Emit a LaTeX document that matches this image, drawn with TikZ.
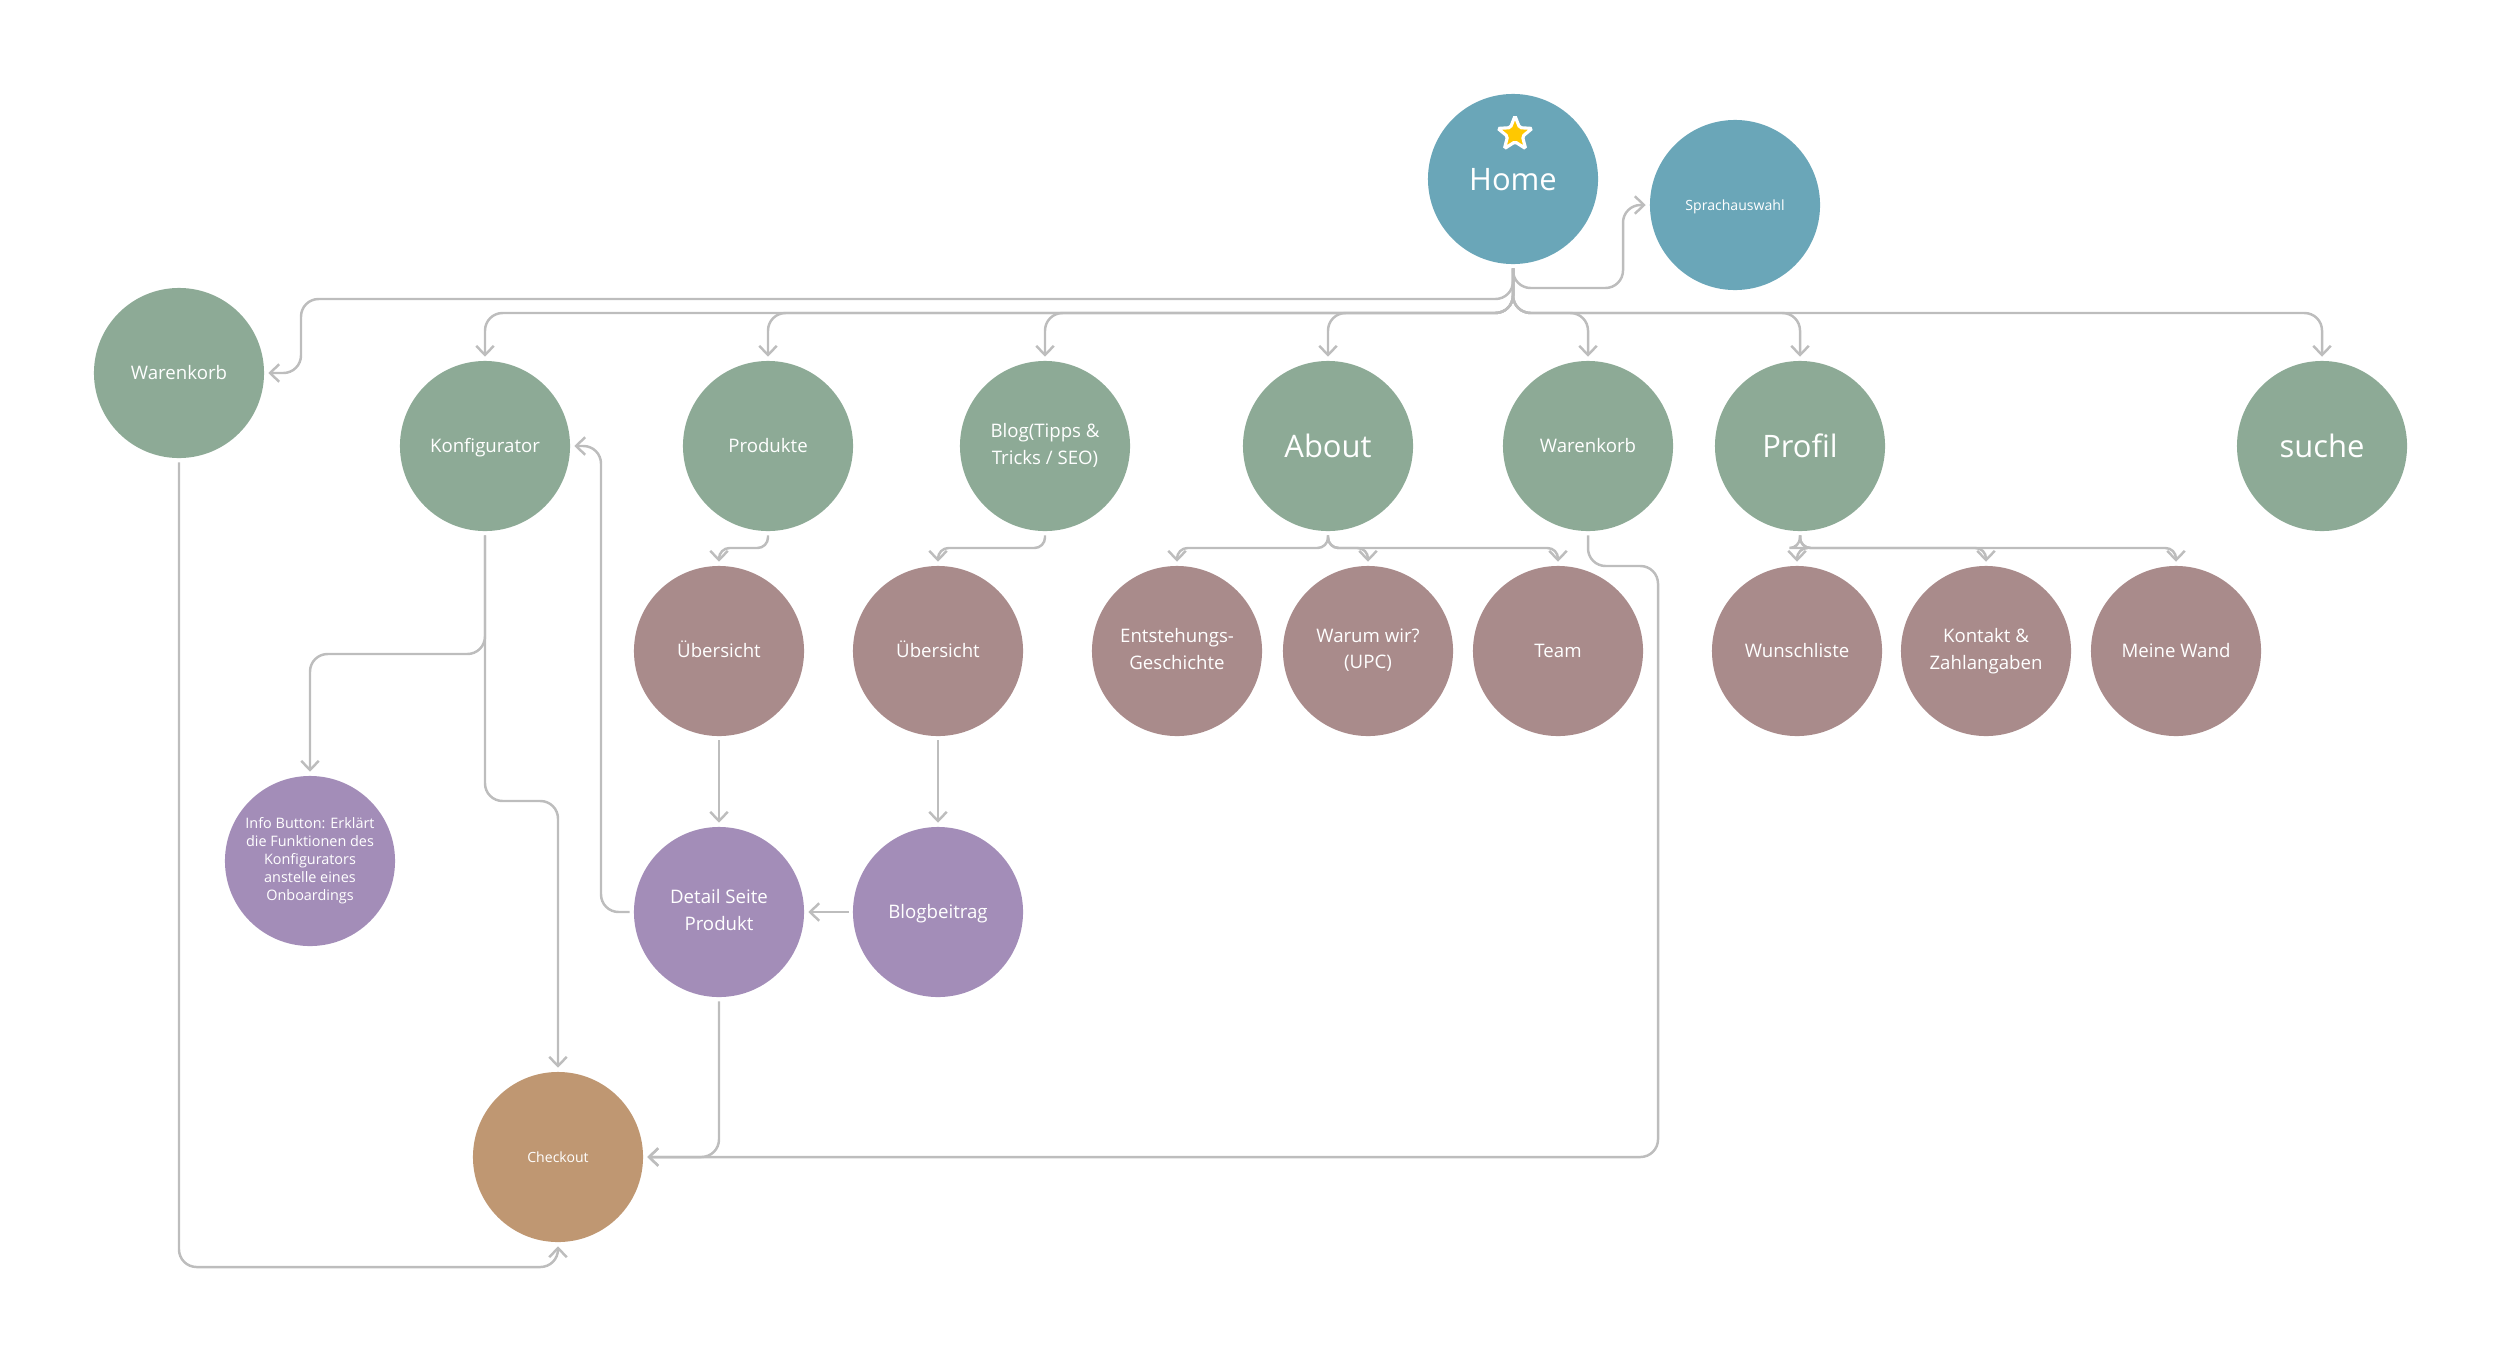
\documentclass[tikz,border=0pt]{standalone}
\usepackage{fontspec}
\setmainfont{Open Sans}
\usetikzlibrary{arrows.meta,shapes.geometric}
\definecolor{cTeal}{HTML}{6AA6B8}
\definecolor{cGreen}{HTML}{8DAA96}
\definecolor{cMauve}{HTML}{A98B8B}
\definecolor{cPurple}{HTML}{A38DB8}
\definecolor{cTan}{HTML}{BF9772}
\definecolor{cLine}{HTML}{BDBDBD}
\definecolor{cStar}{HTML}{FFC800}
\newcommand\mytopstrut{\rule{0pt}{0.97em}}
\newcommand\mybotstrut{\rule[-0.256em]{0pt}{0.256em}}
\begin{document}
\begin{tikzpicture}[x=0.01cm,y=-0.01cm,
  bub/.style={circle,minimum size=1.7cm,inner sep=0pt,outer sep=1.2pt,text=white,align=center,font=\fontsize{5.3}{7.6}\selectfont,
    execute at begin node=\mytopstrut, execute at end node=\mybotstrut},
  bigtxt/.style={font=\fontsize{8.8}{10}\selectfont},
  tinytxt/.style={font=\fontsize{4}{5}\selectfont},
  conn/.style={draw=cLine,line width=0.7pt,rounded corners=5pt,-{Straight Barb[length=2.6pt,width=5pt]}},
  connshort/.style={conn,rounded corners=3pt},
]
\useasboundingbox (0,0) rectangle (2500,1360);

% top
\node[bub,fill=cTeal,bigtxt] (home) at (1513,179) {Home};
\node[star,star points=5,star point ratio=2.3,minimum size=0.36cm,inner sep=0pt,fill=cStar,draw=white,line width=0.9pt,rounded corners=0.5pt] (star) at (1515,134) {};
\node[bub,fill=cTeal,tinytxt] (sprach) at (1735,205) {Sprachauswahl};

% level 1
\node[bub,fill=cGreen] (warenL) at (179,373) {Warenkorb};
\node[bub,fill=cGreen] (konf) at (485,446) {Konfigurator};
\node[bub,fill=cGreen] (prod) at (768,446) {Produkte};
\node[bub,fill=cGreen] (blog) at (1045,446) {Blog(Tipps \&\\Tricks / SEO)};
\node[bub,fill=cGreen,bigtxt] (about) at (1328,446) {About};
\node[bub,fill=cGreen] (warenR) at (1588,446) {Warenkorb};
\node[bub,fill=cGreen,bigtxt] (profil) at (1800,446) {Profil};
\node[bub,fill=cGreen,bigtxt] (suche) at (2322,446) {suche};

% level 2
\node[bub,fill=cMauve] (ueb1) at (719,651) {Übersicht};
\node[bub,fill=cMauve] (ueb2) at (938,651) {Übersicht};
\node[bub,fill=cMauve] (entst) at (1177,651) {Entstehungs-\\Geschichte};
\node[bub,fill=cMauve] (warum) at (1368,651) {Warum wir?\\(UPC)};
\node[bub,fill=cMauve] (team) at (1558,651) {Team};
\node[bub,fill=cMauve] (wunsch) at (1797,651) {Wunschliste};
\node[bub,fill=cMauve] (kontakt) at (1986,651) {Kontakt \&\\Zahlangaben};
\node[bub,fill=cMauve] (meine) at (2176,651) {Meine Wand};

% level 3
\node[bub,fill=cPurple,font=\fontsize{4.1}{5.1}\selectfont] (info) at (310,861) {Info Button: Erklärt\\die Funktionen des\\Konfigurators\\anstelle eines\\Onboardings};
\node[bub,fill=cPurple] (detail) at (719,912) {Detail Seite\\Produkt};
\node[bub,fill=cPurple] (blogb) at (938,912) {Blogbeitrag};
\node[bub,fill=cTan,tinytxt] (checkout) at (558,1157) {Checkout};

% helper levels
\coordinate (bus) at (0,313);
\coordinate (lvl) at (0,548);
\coordinate (bottom) at (0,1267);

% Home connectors
\draw[conn] (home.south) |- (301,299) |- (warenL.east);
\draw[conn] (home.south) |- (1623,288) |- (sprach.west);
\foreach \t in {konf,prod,blog,about,warenR,profil,suche}{
  \draw[conn] (home.south) |- (bus -| \t) -- (\t.north);
}

% level 2 connectors
\draw[connshort] (prod.south) |- (lvl -| ueb1) -- (ueb1.north);
\draw[connshort] (blog.south) |- (lvl -| ueb2) -- (ueb2.north);
\foreach \t in {entst,warum,team}{
  \draw[connshort] (about.south) |- (lvl -| \t) -- (\t.north);
}
\foreach \t in {wunsch,kontakt,meine}{
  \draw[connshort] (profil.south) |- (lvl -| \t) -- (\t.north);
}

% vertical chains
\draw[conn] (ueb1.south) -- (detail.north);
\draw[conn] (ueb2.south) -- (blogb.north);
\draw[conn] (blogb.west) -- (detail.east);

% Konfigurator
\draw[conn] (konf.south) |- (310,654) -- (info.north);
\draw[conn] (konf.south) |- (558,801) -- (checkout.north);
\draw[conn] (detail.west) -| (601,446) -- (konf.east);

% Checkout
\draw[conn] (detail.south) |- (checkout.east);
\draw[conn] (warenR.south) |- (1658,566) |- (checkout.east);
\draw[conn] (warenL.south) |- (bottom -| checkout) -- (checkout.south);
\end{tikzpicture}
\end{document}
